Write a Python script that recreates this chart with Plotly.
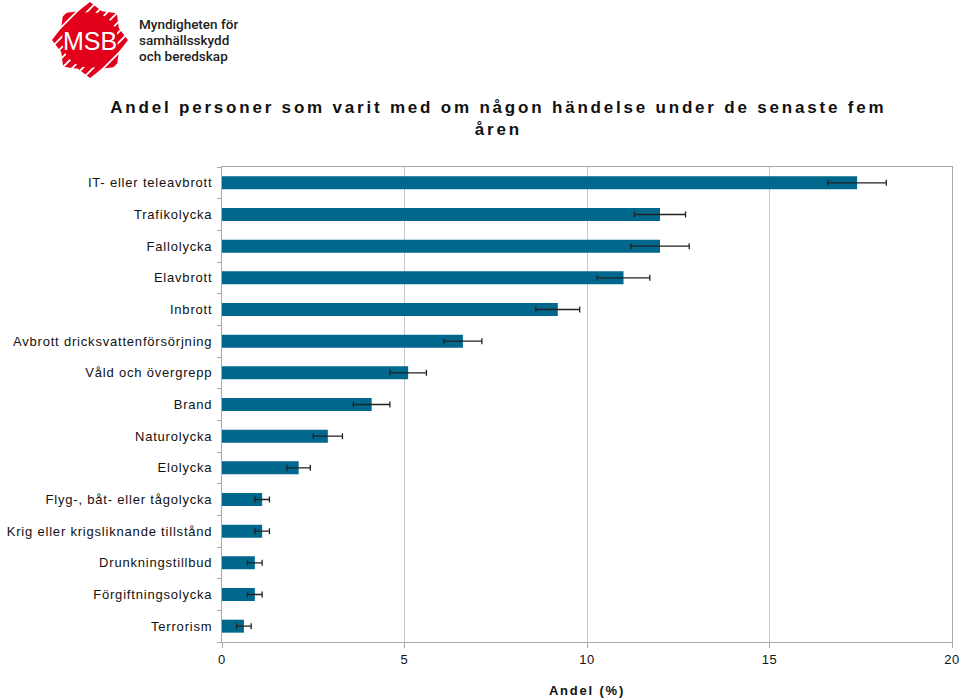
import math
import plotly.graph_objects as go

categories = [
    "IT- eller teleavbrott",
    "Trafikolycka",
    "Fallolycka",
    "Elavbrott",
    "Inbrott",
    "Avbrott dricksvattenförsörjning",
    "Våld och övergrepp",
    "Brand",
    "Naturolycka",
    "Elolycka",
    "Flyg-, båt- eller tågolycka",
    "Krig eller krigsliknande tillstånd",
    "Drunkningstillbud",
    "Förgiftningsolycka",
    "Terrorism",
]
values = [17.4, 12.0, 12.0, 11.0, 9.2, 6.6, 5.1, 4.1, 2.9, 2.1, 1.1, 1.1, 0.9, 0.9, 0.6]
errors = [0.8, 0.7, 0.8, 0.72, 0.6, 0.52, 0.5, 0.5, 0.4, 0.32, 0.2, 0.2, 0.2, 0.2, 0.2]
x_ticks = [0, 5, 10, 15, 20]

title_text = "Andel personer som varit med om någon händelse under de senaste fem<br>åren"
x_title = "Andel (%)"
logo_mark = "MSB"
logo_lines = ["Myndigheten för", "samhällsskydd", "och beredskap"]

W, H = 959, 699
L, R, T, B = 222, 952, 167, 642

def px(x):
    return (x - L) / (R - L)

def py(y):
    return (B - y) / (B - T)

fig = go.Figure()
fig.add_trace(go.Bar(
    x=values, y=categories, orientation="h",
    marker=dict(color="#00678d", line=dict(width=0)),
    width=0.41,
    error_x=dict(type="data", array=errors, visible=True, color="#222222",
                 thickness=1.3, width=3),
    showlegend=False,
))

shapes = []
# Logo: red star-like shape with white hatching
cx, cy, r = 90, 40, 38
pts = []
for k in range(16):
    ang = math.pi / 2 + k * math.pi / 8
    rr = r if k % 2 == 0 else r * 0.82
    pts.append((cx + rr * math.cos(ang), cy - rr * math.sin(ang)))
path = "M " + " L ".join(f"{px(x):.5f},{py(y):.5f}" for x, y in pts) + " Z"
shapes.append(dict(type="path", path=path, xref="paper", yref="paper",
                   fillcolor="#e2001a", line=dict(width=0), layer="above"))
for k in range(-12, 13):
    off = k * 5.2
    x0, y0 = cx - 45 + off, cy + 45 + off
    x1, y1 = cx + 45 + off, cy - 45 + off
    shapes.append(dict(type="line", xref="paper", yref="paper",
                       x0=px(x0), y0=py(y0), x1=px(x1), y1=py(y1),
                       line=dict(color="white", width=1.8), layer="above"))
shapes.append(dict(type="circle", xref="paper", yref="paper",
                   x0=px(cx - 28), x1=px(cx + 28), y0=py(cy + 28), y1=py(cy - 28),
                   fillcolor="#e2001a", line=dict(width=0), layer="above"))

annotations = [
    dict(text=logo_mark, x=px(cx), y=py(cy + 1), xref="paper", yref="paper",
         showarrow=False, font=dict(family="Liberation Sans", size=25, color="white"),
         xanchor="center", yanchor="middle"),
    dict(text=title_text, x=px(498), y=py(118), xref="paper", yref="paper",
         showarrow=False, font=dict(family="Liberation Sans", size=17, color="#111111", weight="bold"),
         xanchor="center", yanchor="middle", align="center"),
    dict(text=x_title, x=px(587), y=py(690), xref="paper", yref="paper",
         showarrow=False, font=dict(family="Liberation Sans", size=13, color="#111111", weight="bold"),
         xanchor="center", yanchor="middle"),
]
for i, line in enumerate(logo_lines):
    annotations.append(dict(text=line, x=px(137), y=py(24 + i * 16), xref="paper", yref="paper",
                            showarrow=False, xanchor="left", yanchor="middle",
                            font=dict(family="Roboto", size=13.5, color="#222222", weight=500)))

fig.update_layout(
    width=W, height=H,
    margin=dict(l=L, r=W - R, t=T, b=H - B, pad=0),
    paper_bgcolor="white", plot_bgcolor="white",
    shapes=shapes, annotations=annotations,
    xaxis=dict(range=[0, 20], tickvals=x_ticks, ticktext=[str(v) for v in x_ticks],
               showgrid=True, gridcolor="#c8c8c8", gridwidth=1, zeroline=False,
               showline=True, linecolor="#a8a8a8", linewidth=1, mirror=True,
               ticks="outside", ticklen=5, tickcolor="#a8a8a8",
               ticklabeloverflow="allow", automargin=False,
               tickfont=dict(family="Liberation Sans", size=13, color="#111111"),
               fixedrange=True),
    yaxis=dict(categoryorder="array", categoryarray=categories[::-1],
               showgrid=False, zeroline=False, automargin=False,
               showline=True, linecolor="#a8a8a8", linewidth=1, mirror=True,
               ticks="outside", ticklen=4, tickcolor="#a8a8a8", tickson="boundaries",
               ticklabelstandoff=6,
               tickfont=dict(family="Liberation Sans", size=13, color="#111111")),
)

post = """
document.body.style.margin = '0';
document.querySelectorAll('.ytick text').forEach(t => t.style.letterSpacing = '0.8px');
document.querySelectorAll('.xtick text').forEach(t => t.style.letterSpacing = '0.6px');
document.querySelectorAll('.annotation[data-index="1"] text').forEach(t => t.style.letterSpacing = '2.8px');
document.querySelectorAll('.annotation[data-index="2"] text').forEach(t => t.style.letterSpacing = '1.8px');
"""

fig.write_html("out.html", post_script=post, config={"displayModeBar": False})
